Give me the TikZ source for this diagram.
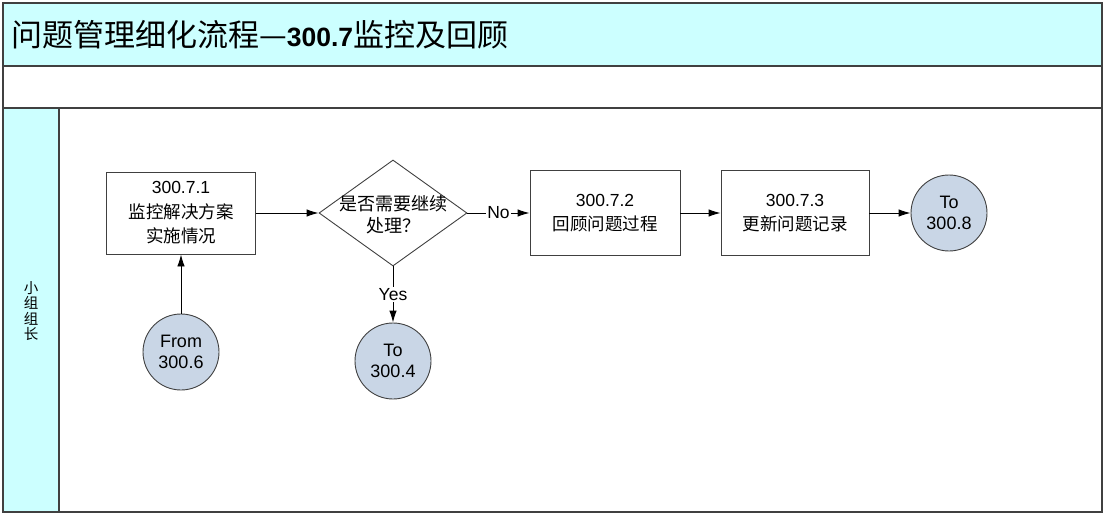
\documentclass[tikz,border=0pt]{standalone}
\usepackage{fontspec}
\setmainfont{Liberation Sans}
\newfontfamily\cjk{Noto Sans CJK SC}
\usetikzlibrary{arrows.meta,shapes.geometric}

\definecolor{laneCyan}{HTML}{CCFFFF}
\definecolor{termBlue}{HTML}{C9D6E6}
\definecolor{edgeGray}{HTML}{404040}

\tikzset{
  procbox/.style={draw=edgeGray, fill=white, line width=0.9pt, minimum width=149pt,
    minimum height=82pt, align=center, font=\fontsize{17.5}{24.5}\selectfont},
  decbox/.style={draw=edgeGray, line width=0.9pt, diamond, minimum width=148pt,
    minimum height=106pt, inner sep=0pt},
  termcirc/.style={draw=edgeGray, fill=termBlue, line width=0.9pt, circle,
    minimum size=76pt, inner sep=0pt, align=center, font=\fontsize{18}{21}\selectfont},
  flow/.style={->, black, line width=0.9pt},
  flowlbl/.style={fill=white, inner sep=1pt, font=\fontsize{17.5}{18}\selectfont},
}

\begin{document}
\begin{tikzpicture}[x=1pt, y=-1pt, >={Latex[length=12pt,width=7.5pt]}]
  \useasboundingbox (0,0) rectangle (1106,516);

  % --- 1. 泳道框架 ---
  \fill[laneCyan] (3,3) rectangle (1102,66);
  \fill[laneCyan] (3,108) rectangle (59,512);
  \draw[edgeGray, line width=1.2pt] (3,3) rectangle (1102,512);
  \draw[edgeGray, line width=1.2pt] (3,66) -- (1102,66);
  \draw[edgeGray, line width=1.2pt] (3,108) -- (1102,108);
  \draw[edgeGray, line width=1.2pt] (59,108) -- (59,512);

  \node[anchor=west, inner sep=0pt] (title) at (11,35)
    {\fontsize{31}{33}\selectfont\cjk 问题管理细化流程—{\rmfamily\bfseries\fontsize{26.5}{30}\selectfont 300.7}监控及回顾};
  \node[align=center, font=\fontsize{14.5}{15.5}\selectfont\cjk] (lane) at (31,311)
    {小\\组\\组\\长};

  \def\rowY{213}

  % --- 2. 处理步骤 ---
  \node[procbox] (mon) at (181,\rowY) {300.7.1\\{\cjk 监控解决方案}\\{\cjk 实施情况}};
  \node[decbox] (dec) at (393,\rowY) {};
  \node[align=center, font=\fontsize{18}{22}\selectfont\cjk] (dectext) at (393,\rowY+2)
    {是否需要继续\\处理？};
  \node[procbox, minimum width=150pt, minimum height=85pt] (rev) at (605,\rowY) {300.7.2\\{\cjk 回顾问题过程}};
  \node[procbox, minimum width=148pt, minimum height=85pt] (upd) at (795,\rowY) {300.7.3\\{\cjk 更新问题记录}};

  % --- 3. 连接点 ---
  \node[termcirc] (from6) at (181,352) {From\\300.6};
  \node[termcirc] (to4) at (393,361) {To\\300.4};
  \node[termcirc] (to8) at (949,\rowY) {To\\300.8};

  % --- 4. 流程线 ---
  \draw[flow] (from6) -- (mon);
  \draw[flow] (mon) -- (dec);
  \draw[flow] (dec) -- node[flowlbl] {No} (rev);
  \draw[flow] (dec) -- node[flowlbl] {Yes} (to4);
  \draw[flow] (rev) -- (upd);
  \draw[flow] (upd) -- (to8);

\end{tikzpicture}
\end{document}
